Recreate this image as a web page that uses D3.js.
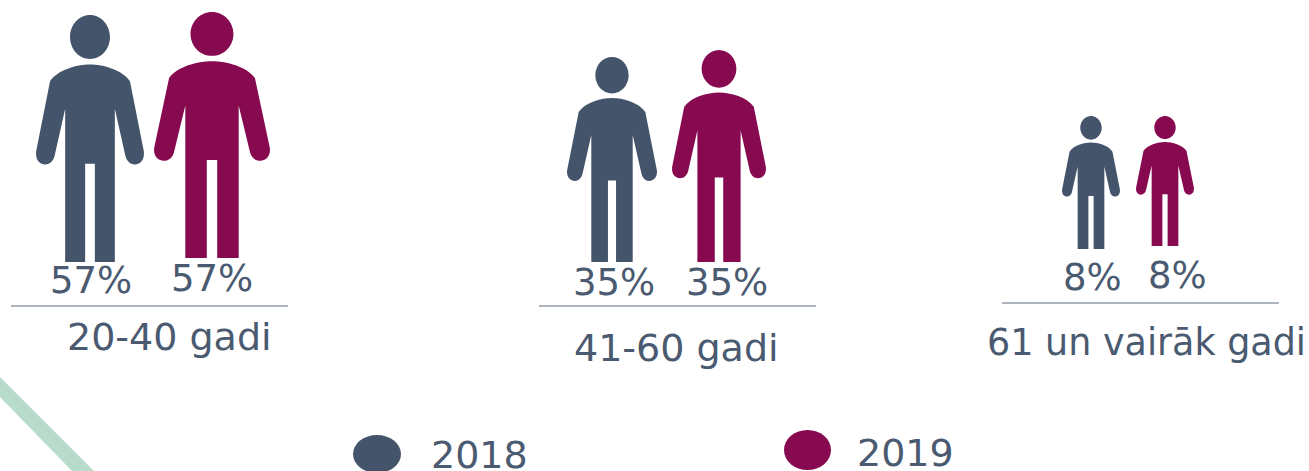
<!DOCTYPE html>
<html>
<head>
<meta charset="utf-8">
<script src="https://cdn.jsdelivr.net/npm/d3@7"></script>
<style>
  html, body { margin: 0; padding: 0; background: #fff; }
  text { font-family: "DejaVu Sans", sans-serif; fill: #4a5a70; }
</style>
</head>
<body>
<div id="chart"></div>
<script>
const ageGroups = ['20-40 gadi', '41-60 gadi', '61 un vairāk gadi'];
const years = ['2018', '2019'];
const share2018 = [57, 35, 8];
const share2019 = [57, 35, 8];

const width = 1309, height = 471;
const colors = { 2018: '#44546a', 2019: '#870a50' };

// where each group sits in the picture
const groupLayout = [
  { x0: 11, x1: 288, ruleY: 306, labelX: 67, labelY: 350, labelSize: 38, cx: [90, 212], feet: [262, 258], pctX: [50, 171], pctY: [293, 291] },
  { x0: 539, x1: 816, ruleY: 306, labelX: 574, labelY: 361, labelSize: 38, cx: [612, 719], feet: [262, 262], pctX: [573, 686], pctY: [295, 295] },
  { x0: 1002, x1: 1279, ruleY: 303, labelX: 987, labelY: 355, labelSize: 36.5, cx: [1091, 1165], feet: [249, 246], pctX: [1063, 1148], pctY: [290, 288] }
];
const legendLayout = {
  2018: { cx: 377, cy: 454, rx: 24, ry: 19, textX: 431, textY: 468 },
  2019: { cx: 807.5, cy: 450, rx: 23.5, ry: 20, textX: 857, textY: 466 }
};

// figure size follows the share, the picture is not strictly proportional
const heightScale = {
  2018: d3.scaleLinear().domain([8, 35, 57]).range([133, 205, 247]),
  2019: d3.scaleLinear().domain([8, 35, 57]).range([130, 212, 246])
};
const widthScale = {
  2018: d3.scaleLinear().domain([8, 35, 57]).range([58, 90, 108]),
  2019: d3.scaleLinear().domain([8, 35, 57]).range([58, 94, 116])
};

// person drawn in a box x -1..1, y 0..1
function personPath(x, y) {
  const p = d3.path();
  // head
  p.moveTo(x(0.37), y(0.089));
  p.bezierCurveTo(x(0.37), y(0.138), x(0.205), y(0.178), x(0), y(0.178));
  p.bezierCurveTo(x(-0.205), y(0.178), x(-0.37), y(0.138), x(-0.37), y(0.089));
  p.bezierCurveTo(x(-0.37), y(0.04), x(-0.205), y(0), x(0), y(0));
  p.bezierCurveTo(x(0.205), y(0), x(0.37), y(0.04), x(0.37), y(0.089));
  p.closePath();
  // body, left side then right side
  p.moveTo(x(0), y(0.2));
  p.bezierCurveTo(x(-0.25), y(0.2), x(-0.6), y(0.222), x(-0.74), y(0.268));
  p.lineTo(x(-0.995), y(0.55));
  p.bezierCurveTo(x(-1.02), y(0.585), x(-0.93), y(0.605), x(-0.83), y(0.605));
  p.bezierCurveTo(x(-0.74), y(0.605), x(-0.67), y(0.59), x(-0.65), y(0.565));
  p.lineTo(x(-0.46), y(0.38));
  p.lineTo(x(-0.46), y(1));
  p.lineTo(x(-0.09), y(1));
  p.lineTo(x(-0.09), y(0.602));
  p.lineTo(x(0.09), y(0.602));
  p.lineTo(x(0.09), y(1));
  p.lineTo(x(0.46), y(1));
  p.lineTo(x(0.46), y(0.38));
  p.lineTo(x(0.65), y(0.565));
  p.bezierCurveTo(x(0.67), y(0.59), x(0.74), y(0.605), x(0.83), y(0.605));
  p.bezierCurveTo(x(0.93), y(0.605), x(1.02), y(0.585), x(0.995), y(0.55));
  p.lineTo(x(0.74), y(0.268));
  p.bezierCurveTo(x(0.6), y(0.222), x(0.25), y(0.2), x(0), y(0.2));
  p.closePath();
  return p.toString();
}

const svg = d3.select('#chart').append('svg')
  .attr('width', width)
  .attr('height', height)
  .style('display', 'block');

// green corner stripe
svg.append('path')
  .attr('d', d3.line()([[0, 377], [94, 471], [72, 471], [0, 397]]))
  .attr('fill', '#b8dccb');

const groups = svg.selectAll('g.group')
  .data(ageGroups.map((name, i) => ({ name, values: [share2018[i], share2019[i]], layout: groupLayout[i] })))
  .join('g')
  .attr('class', 'group');

groups.each(function(d) {
  const g = d3.select(this);
  years.forEach((year, j) => {
    const w = widthScale[year](d.values[j]);
    const h = heightScale[year](d.values[j]);
    const feet = d.layout.feet[j];
    const cx = d.layout.cx[j];
    const x = d3.scaleLinear().domain([-1, 1]).range([cx - w / 2, cx + w / 2]);
    const y = d3.scaleLinear().domain([0, 1]).range([feet - h, feet]);

    g.append('path')
      .attr('d', personPath(x, y))
      .attr('fill', colors[year]);

    g.append('text')
      .attr('x', d.layout.pctX[j])
      .attr('y', d.layout.pctY[j])
      .attr('font-size', 37)
      .text(d.values[j] + '%');
  });

  g.append('line')
    .attr('x1', d.layout.x0)
    .attr('x2', d.layout.x1)
    .attr('y1', d.layout.ruleY)
    .attr('y2', d.layout.ruleY)
    .attr('stroke', '#5f6b7a')
    .attr('stroke-width', 1);

  g.append('text')
    .attr('x', d.layout.labelX)
    .attr('y', d.layout.labelY)
    .attr('font-size', d.layout.labelSize)
    .text(d.name);
});

const legend = svg.selectAll('g.legend')
  .data(years)
  .join('g')
  .attr('class', 'legend');

legend.append('ellipse')
  .attr('cx', d => legendLayout[d].cx)
  .attr('cy', d => legendLayout[d].cy)
  .attr('rx', d => legendLayout[d].rx)
  .attr('ry', d => legendLayout[d].ry)
  .attr('fill', d => colors[d]);

legend.append('text')
  .attr('x', d => legendLayout[d].textX)
  .attr('y', d => legendLayout[d].textY)
  .attr('font-size', 38)
  .text(d => d);
</script>
</body>
</html>
